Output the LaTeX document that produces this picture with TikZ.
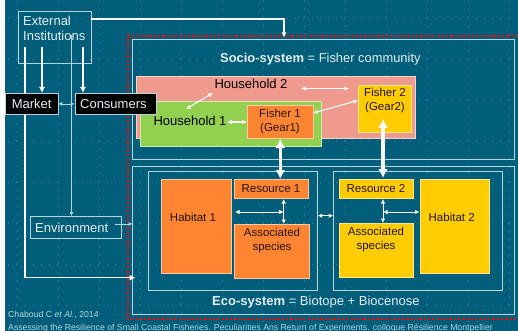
\documentclass[tikz,border=0pt]{standalone}
\usepackage{fontspec}
\setmainfont{Liberation Sans}
\usetikzlibrary{arrows.meta}
\definecolor{teal0}{HTML}{005E7A}
\definecolor{gridc}{HTML}{3F8499}
\definecolor{linec}{HTML}{B5D5DE}
\definecolor{pinkc}{HTML}{F09A8E}
\definecolor{greenc}{HTML}{92D050}
\definecolor{orangec}{HTML}{FF8533}
\definecolor{yellowc}{HTML}{FFCC00}
\definecolor{txtc}{HTML}{E4EFF3}
\tikzset{
  x=1pt,y=-1pt,
  outline/.style={draw=linec,line width=.9pt,fill=none},
  filled/.style={draw=#1!45!white,line width=.9pt,fill=#1},
  lbl/.style={inner sep=0pt,font=\fontsize{11.5}{14}\selectfont,text=black!85!orange,align=center},
  hlbl/.style={inner sep=0pt,font=\fontsize{13}{15.5}\selectfont,text=black,anchor=base},
  wlbl/.style={inner sep=0pt,font=\fontsize{13}{15.5}\selectfont,text=txtc,align=left},
  blackbox/.style={draw=linec,line width=.8pt,fill=black,text=txtc,inner sep=0pt,font=\fontsize{13}{15.5}\selectfont,anchor=north west},
  thin2/.style={draw=linec,line width=.7pt,{Latex[length=4pt,width=4pt]}-{Latex[length=4pt,width=4pt]}},
  thin1/.style={draw=linec,line width=.7pt,-{Latex[length=4pt,width=4pt]}},
  med/.style={draw=white,line width=1.5pt,-{Latex[length=6pt,width=6pt]}},
  med2/.style={draw=white,line width=1.1pt,{Latex[length=4.5pt,width=4.5pt]}-{Latex[length=4.5pt,width=4.5pt]}},
  thick2/.style={draw=white,line width=3.2pt,{Latex[length=9pt,width=10pt]}-{Latex[length=9pt,width=10pt]}},
}
\newcommand{\boxnode}[6]{% name, style, x1, y1, x2, y2
  \path[#2] (#3,#4) rectangle (#5,#6);
  \coordinate (#1) at ({(#3+#5)/2},{(#4+#6)/2});
}
\begin{document}
\begin{tikzpicture}
\useasboundingbox (0,0) rectangle (518,331);
\fill[white] (0,0) rectangle (518,331);
\fill[teal0] (5,0) rectangle (518,331);
% grid of guide dots
\foreach \r in {18,59,100,141,182,223,264,305}{
  \foreach \k in {1,...,62}{ \fill[gridc] ({8.2*\k},\r-.4) rectangle ++(.9,.9); } }
\foreach \c in {17,58,99,140,181,222,263,304,345,386,427,468,509}{
  \foreach \k in {0,...,39}{ \fill[gridc] (\c-.4,{1+8.2*\k}) rectangle ++(.9,.9); } }
% Red frame
\draw[red,line width=1.7pt,dash pattern=on 2.2pt off 2.1pt] (530,36) -- (128,36) -- (128,318.8) -- (530,318.8);
% system frames
\boxnode{socio}{outline}{132.5}{39.5}{514.5}{159}
\boxnode{eco}{outline}{132.5}{166.7}{514.5}{314.7}
\boxnode{ecoA}{outline}{148.5}{171.3}{317.7}{290}
\boxnode{ecoB}{outline}{333.3}{171.3}{502.3}{290}
% Socio
\boxnode{hh2}{filled=pinkc}{136.5}{76.5}{415.5}{138}
\boxnode{hh1}{filled=greenc}{140.5}{101}{321}{146.5}
\boxnode{f1}{filled=orangec}{247}{105.5}{313}{138.5}
\boxnode{f2}{filled=yellowc}{358.3}{85}{411.7}{132.5}
% Eco
\boxnode{hab1}{filled=orangec}{161}{179.3}{231.5}{273.3}
\boxnode{res1}{filled=orangec}{234.5}{179.3}{308.7}{198.7}
\boxnode{as1}{filled=orangec}{234.5}{224}{309.7}{278.3}
\boxnode{res2}{filled=yellowc}{339.7}{179.3}{413.7}{198.7}
\boxnode{as2}{filled=yellowc}{339.7}{223.3}{413.7}{277.7}
\boxnode{hab2}{filled=yellowc}{420}{179.3}{489.7}{273.3}
% Outer lines
\node[draw=linec,line width=.8pt,fill=none,minimum width=73pt,minimum height=51.5pt,inner sep=0pt,anchor=north west] (ext) at (17.5,11.5) {};
\node[draw=linec,line width=.8pt,minimum width=91pt,minimum height=21.5pt,inner sep=0pt,anchor=north west,wlbl] (env) at (29.5,216) {};
\coordinate (extT) at (90.5,19);
\coordinate (redT) at (284,37.5);
\draw[med,line width=1.3pt,-{Latex[length=5pt,width=5pt]}] (extT) -| (redT);
\coordinate (a1) at (25,47);
\coordinate (a2) at (135.5,277.7);
\draw[med] (a1) |- (a2);
\coordinate (th) at (71.5,35);
\draw[thin1] (th) -- (71.5,216);
% Market & Consumers
\node[blackbox,minimum width=52.5pt,minimum height=21pt] (market) at (5,93) {Market};
\node[blackbox,minimum width=81.5pt,minimum height=21pt,align=left,text width=71pt,inner xsep=5.25pt] (cons) at (74.5,93) {Consumers};
\draw[med] (42,47) -- (42,93);
\draw[med] (83,47) -- (83,93);
\draw[thin2] (market.east) -- (cons.west);
% Internal connectors
\coordinate (p1) at (186,109);\coordinate (p2) at (213,93);
\draw[med2] (p1) -- (p2);
\coordinate (p3) at (227,122);\coordinate (p3b) at (247,122);
\draw[med2] (p3) -- (p3b);
\coordinate (p4) at (301,88.5);\coordinate (p5) at (349,88.5);
\draw[med2] (p4) -- (p5);
\coordinate (p6) at (313,113);\coordinate (p7) at (358,100.5);
\draw[med2] (p6) -- (p7);
\coordinate (t1) at (280.3,139);\coordinate (t2) at (280.3,179);
\draw[thick2] (t1) -- (t2);
\coordinate (t3) at (383,119);\coordinate (t4) at (383,178);
\draw[thick2] (t3) -- (t4);
% Environment
\coordinate (p8) at (115,224);\coordinate (p9) at (132.5,224);
\draw[thin1] (p8) -- (p9);
% Eco connectors
\coordinate (e1) at (283.7,199);\coordinate (e2) at (283.7,224);\coordinate (e3) at (235,212);\coordinate (e4) at (283.7,212);
\draw[med2,line width=.9pt] (e1) -- (e2);
\draw[med2,line width=.9pt] (e3) -- (e4);
\coordinate (g1) at (383,199);\coordinate (g2) at (383,223);\coordinate (g3) at (383,212);\coordinate (g4) at (419.5,212);
\draw[med2,line width=.9pt] (g1) -- (g2);
\draw[med2,line width=.9pt] (g3) -- (g4);
\coordinate (m1) at (317.7,215.7);\coordinate (m2) at (333.3,215.7);
\draw[med2,line width=.9pt] (m1) -- (m2);
% Labels
\node[wlbl,anchor=north west] (tExt) at (23,15.5) {External\\[-.5pt]Institutions};
\node[wlbl,anchor=base west] (tEnv) at (35,232) {Environment};
\node[hlbl] (tH2) at (251,88.5) {Household 2};
\node[hlbl] (tH1) at (190,125) {Household 1};
\node[lbl] (tF1) at (280,122) {Fisher 1\\(Gear1)};
\node[lbl] (tF2) at (385,101) {Fisher 2\\(Gear2)};
\node[lbl] (tHab1) at (193,217.7) {Habitat 1};
\node[lbl] (tRes1) at (271,189) {Resource 1};
\node[lbl] (tAs1) at (272,241) {Associated\\species};
\node[lbl] (tRes2) at (376,189) {Resource 2};
\node[lbl] (tAs2) at (376,239.7) {Associated\\species};
\node[lbl] (tHab2) at (451.7,217.7) {Habitat 2};
\node[inner sep=0pt,anchor=base west,text=txtc,font=\fontsize{12.9}{15}\selectfont] (tSocio) at (220,63) {\textbf{Socio-system} = Fisher community};
\node[inner sep=0pt,anchor=base west,text=txtc,font=\fontsize{13}{15}\selectfont] (tEco) at (212,305) {\textbf{Eco-system} = Biotope + Biocenose};
\node[inner sep=0pt,anchor=base west,text=linec,font=\fontsize{8.7}{10}\selectfont] (tCh) at (8,317.5) {Chaboud C \textit{et Al.}, 2014};
\node[inner sep=0pt,anchor=base west,text=linec,font=\fontsize{8.7}{10}\selectfont] (tRef) at (8,330.5) {Assessing the Resilience of Small Coastal Fisheries. Peculiarities Ans Return of Experiments. colloque Résilience Montpellier};
\end{tikzpicture}
\end{document}
